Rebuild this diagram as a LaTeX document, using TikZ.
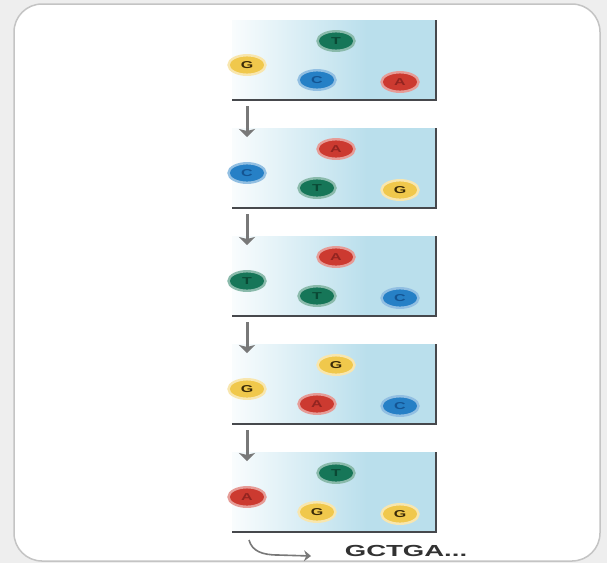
\documentclass[tikz,border=0pt]{standalone}
\usepackage{fontspec}
\usepackage{graphicx}
\setsansfont{Liberation Sans}
\usetikzlibrary{shapes.geometric,arrows.meta}
\definecolor{pblue}{RGB}{186,223,236}
\definecolor{outbg}{RGB}{238,238,238}
\definecolor{bordergray}{RGB}{196,196,196}
\definecolor{frameg}{RGB}{70,72,76}
\definecolor{arrg}{RGB}{120,120,120}
\definecolor{gT}{RGB}{22,118,88}
\definecolor{gTd}{RGB}{10,72,52}
\definecolor{bC}{RGB}{38,128,198}
\definecolor{bCd}{RGB}{20,84,146}
\definecolor{rA}{RGB}{204,58,48}
\definecolor{rAd}{RGB}{146,36,32}
\definecolor{yG}{RGB}{240,200,76}
\definecolor{yGd}{RGB}{58,42,8}
\definecolor{txtg}{RGB}{50,50,50}
\pgfdeclarehorizontalshading{panelshade}{100bp}{color(0bp)=(white); color(22bp)=(white); color(58bp)=(pblue); color(100bp)=(pblue)}
\newcommand\wideL[1]{\scalebox{1.6}[1]{#1}}
\begin{document}
\begin{tikzpicture}[x=1pt,y=-1pt,
  nuc/.style={ellipse, minimum width=37pt, minimum height=19.5pt, inner sep=0pt,
    line width=2.4pt, font=\sffamily\bfseries\fontsize{10}{10}\selectfont},
  nucT/.style={nuc, fill=gT, draw=gT!50!white, text=gTd},
  nucC/.style={nuc, fill=bC, draw=bC!50!white, text=bCd},
  nucA/.style={nuc, fill=rA, draw=rA!50!white, text=rAd},
  nucG/.style={nuc, fill=yG, draw=yG!45!white, text=yGd},
  frame/.style={draw=frameg, line width=2pt},
  darr/.style={draw=arrg, line width=3pt, -{Stealth[length=8pt,width=16pt,inset=2pt]}},
  carr/.style={draw=arrg, line width=1.6pt, -{Stealth[length=7pt,width=11pt]}}]
\useasboundingbox (0,0) rectangle (607,563);
\fill[outbg] (0,0) rectangle (607,563);
\draw[rounded corners=28pt, fill=white, draw=bordergray, line width=1.5pt] (14,4) rectangle (600,561);
\foreach \k/\a/\b/\c/\d in {0/T/G/C/A, 1/A/C/T/G, 2/A/T/T/C, 3/G/G/A/C, 4/T/A/G/G} {
  \pgfmathsetmacro\bot{100+108*\k}
  \path[shading=panelshade] (232,\bot-80) rectangle (436,\bot);
  \coordinate (bl\k) at (232,\bot);
  \coordinate (br\k) at (436,\bot);
  \coordinate (tr\k) at (436,\bot-80);
  \draw[frame] (bl\k) -- (br\k) -- (tr\k);
  \node[nuc\a] (p\k t) at (336,\bot-59) {\wideL{\a}};
  \node[nuc\b] (p\k l) at (247,\bot-35) {\wideL{\b}};
  \node[nuc\c] (p\k m) at (317,\bot-20) {\wideL{\c}};
  \node[nuc\d] (p\k r) at (400,\bot-18) {\wideL{\d}};
}
\foreach \k in {0,1,2,3} {
  \pgfmathsetmacro\bot{100+108*\k}
  \coordinate (as\k) at (247,\bot+6);
  \coordinate (ae\k) at (247,\bot+37);
  \draw[darr] (as\k) -- (ae\k);
}
\coordinate (cs) at (249,540);
\coordinate (ce) at (311,556);
\draw[carr] (cs) .. controls (252,551) and (262,555) .. (278,555) -- (ce);
\node[font=\sffamily\bfseries\fontsize{16}{16}\selectfont, text=txtg, inner sep=0pt] (seq) at (406,551) {\scalebox{1.72}[1]{GCTGA...}};
\end{tikzpicture}
\end{document}
